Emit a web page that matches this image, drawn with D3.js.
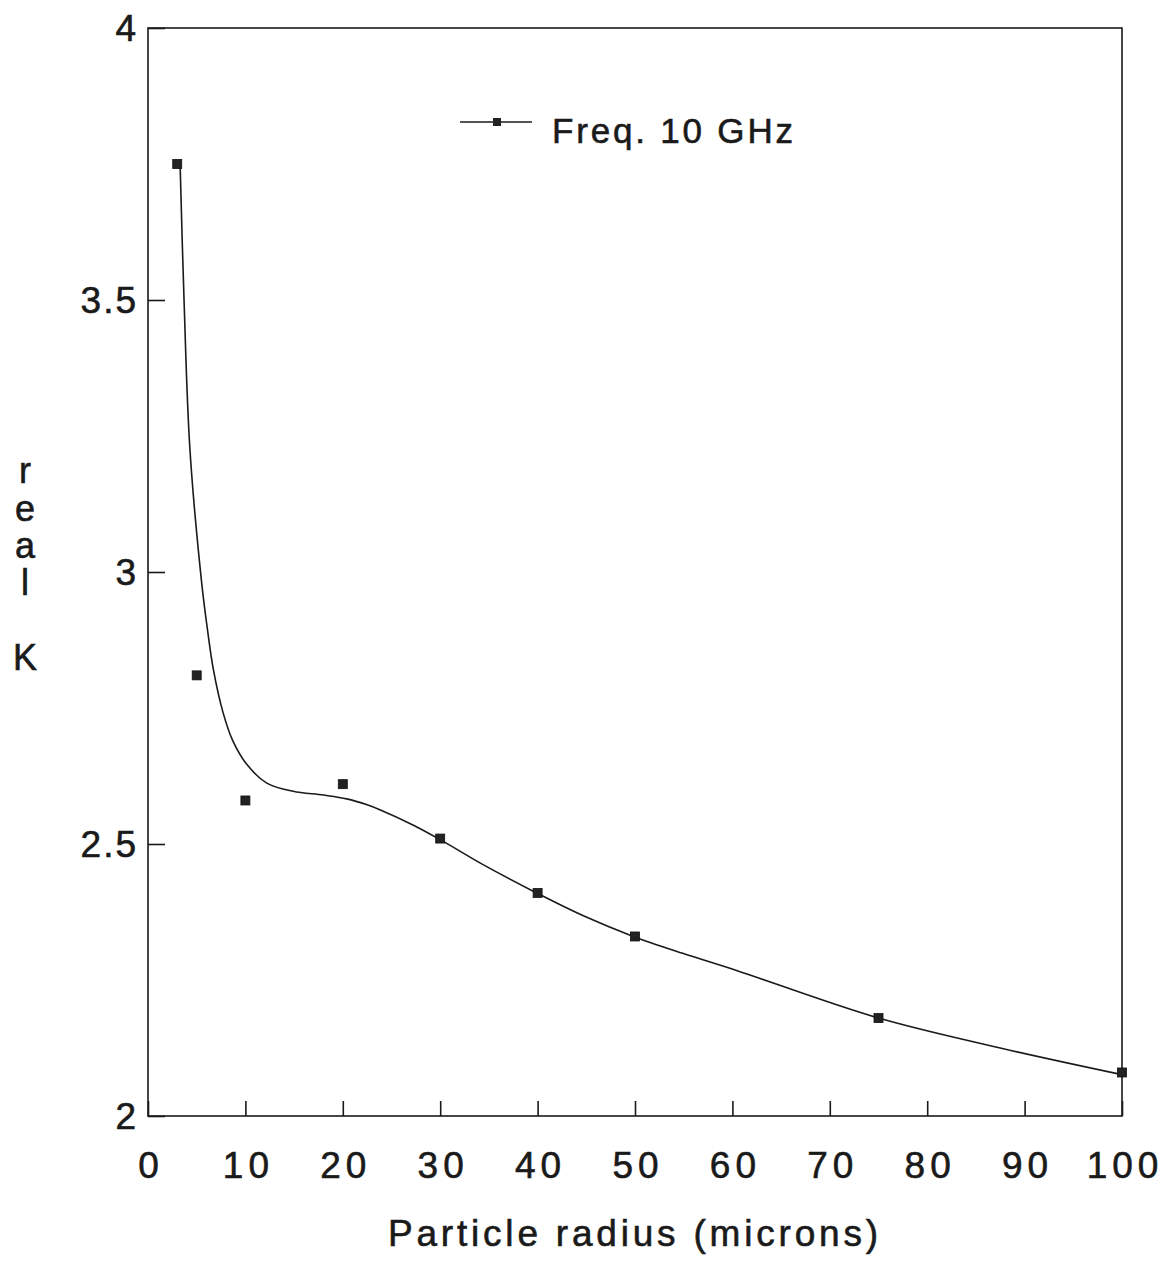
<!DOCTYPE html>
<html>
<head>
<meta charset="utf-8">
<script src="https://cdn.jsdelivr.net/npm/d3@7"></script>
<style>
  html, body { margin: 0; padding: 0; background: #fff; }
  svg { display: block; }
  text { font-family: "Liberation Sans", Arial, sans-serif; fill: #1a1a1a; stroke: #1a1a1a; stroke-width: 0.6px; }
</style>
</head>
<body>
<svg id="chart" width="1168" height="1267"></svg>
<script>
// Data
const radius = [3, 5, 10, 20, 30, 40, 50, 75, 100];          // microns
const realK  = [3.75, 2.81, 2.58, 2.61, 2.51, 2.41, 2.33, 2.18, 2.08];

// Fitted smooth curve
const curveRadius = [3.3, 3.7, 4.3, 5.5, 6.1, 6.7, 7.7, 8.7, 10.2, 12.2, 14.9, 18.0, 20.4, 22.5, 23.8, 27.2, 30.0, 34.4, 39.9, 44.7, 49.7, 54.9, 60.5, 75.0, 87.5, 100];
const curveK      = [3.747, 3.50, 3.227, 2.982, 2.895, 2.822, 2.742, 2.690, 2.645, 2.612, 2.597, 2.590, 2.583, 2.572, 2.563, 2.535, 2.508, 2.462, 2.410, 2.368, 2.331, 2.299, 2.267, 2.180, 2.125, 2.076];

const xTicks = [0, 10, 20, 30, 40, 50, 60, 70, 80, 90, 100];
const yTicks = [2, 2.5, 3, 3.5, 4];
const yTickLabels = ["2", "2.5", "3", "3.5", "4"];
const yTitleLetters = ["r", "e", "a", "l", "K"];
const legendLabel = "Freq. 10 GHz";
const xTitle = "Particle radius (microns)";

(function () {
const svg = d3.select("#chart");
const mLeft = 148, mRight = 1122, mTop = 28, mBottom = 1116;

const x = d3.scaleLinear().domain([0, 100]).range([mLeft, mRight]);
const y = d3.scaleLinear().domain([2, 4]).range([mBottom, mTop]);

const ink = "#1a1a1a";

// Frame
svg.append("rect")
  .attr("x", mLeft).attr("y", mTop)
  .attr("width", mRight - mLeft).attr("height", mBottom - mTop)
  .attr("fill", "none").attr("stroke", ink).attr("stroke-width", 1.6);

// Left axis: inward ticks
const yAxis = d3.axisRight(y).tickValues(yTicks).tickSize(17).tickFormat("");
const gy = svg.append("g").attr("transform", `translate(${mLeft},0)`).call(yAxis);
gy.select(".domain").remove();
gy.selectAll(".tick line").attr("stroke", ink).attr("stroke-width", 1.6);

// Y tick labels
svg.append("g").selectAll("text")
  .data(yTicks)
  .join("text")
  .attr("x", 138)
  .attr("y", d => y(d) + 13)
  .attr("text-anchor", "end")
  .attr("font-size", 37)
  .style("letter-spacing", "2px")
  .text((d, i) => yTickLabels[i]);

// Bottom axis: inward ticks
const xAxis = d3.axisTop(x).tickValues(xTicks).tickSize(15).tickFormat("");
const gx = svg.append("g").attr("transform", `translate(0,${mBottom})`).call(xAxis);
gx.select(".domain").remove();
gx.selectAll(".tick line").attr("stroke", ink).attr("stroke-width", 1.6);

// X tick labels
svg.append("g").selectAll("text")
  .data(xTicks)
  .join("text")
  .attr("x", d => x(d) + 3)
  .attr("y", mBottom + 62)
  .attr("text-anchor", "middle")
  .attr("font-size", 37)
  .style("letter-spacing", "5px")
  .text(d => d);

// X axis title
svg.append("text")
  .attr("x", 388)
  .attr("y", 1246)
  .attr("font-size", 37)
  .attr("textLength", 490)
  .attr("lengthAdjust", "spacing")
  .text(xTitle);

// Y axis title (stacked letters in one text element)
const yTitleBaselines = [483, 521, 558, 595, 670];
const yt = svg.append("text")
  .attr("text-anchor", "middle")
  .attr("font-size", 36);
yt.selectAll("tspan")
  .data(yTitleLetters)
  .join("tspan")
  .attr("x", 25)
  .attr("y", (d, i) => yTitleBaselines[i])
  .text(d => d);

// Fitted curve
const curveData = curveRadius.map((r, i) => [r, curveK[i]]);
const line = d3.line()
  .x(d => x(d[0]))
  .y(d => y(d[1]))
  .curve(d3.curveCatmullRom.alpha(0.5));
svg.append("path")
  .datum(curveData)
  .attr("d", line)
  .attr("fill", "none")
  .attr("stroke", ink)
  .attr("stroke-width", 1.6);

// Data markers
const pts = radius.map((r, i) => [r, realK[i]]);
svg.append("g").selectAll("rect")
  .data(pts)
  .join("rect")
  .attr("x", d => x(d[0]) - 4.5)
  .attr("y", d => y(d[1]) - 4.5)
  .attr("width", 9).attr("height", 9)
  .attr("fill", "#222")
  .attr("stroke", "#111")
  .attr("stroke-width", 0.8);

// Legend
const lg = svg.append("g");
lg.append("line")
  .attr("x1", 460).attr("x2", 532)
  .attr("y1", 122).attr("y2", 122)
  .attr("stroke", ink).attr("stroke-width", 1.6);
lg.append("rect")
  .attr("x", 493).attr("y", 118)
  .attr("width", 8).attr("height", 8)
  .attr("fill", "#222");
lg.append("text")
  .attr("x", 552)
  .attr("y", 143)
  .attr("font-size", 35)
  .attr("textLength", 241)
  .attr("lengthAdjust", "spacing")
  .text(legendLabel);
})();
</script>
</body>
</html>
